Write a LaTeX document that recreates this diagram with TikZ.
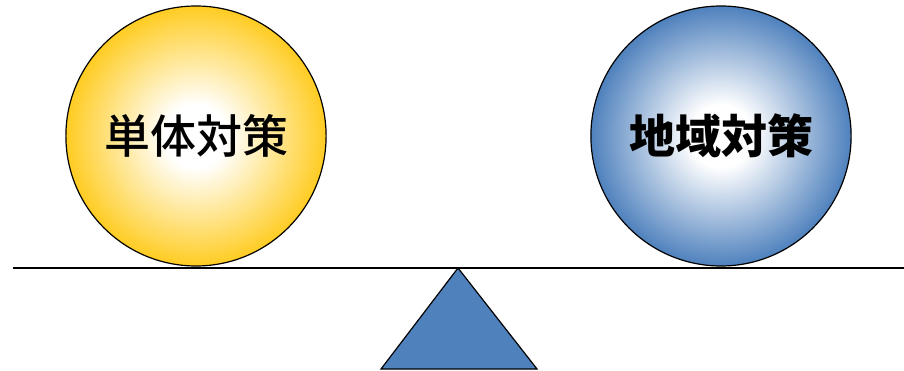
\documentclass[tikz,border=0pt]{standalone}
\usepackage{fontspec}
\newfontfamily\cjk{Noto Sans CJK JP}
\newfontfamily\cjkmed{Noto Sans CJK JP Medium}
\usepackage{tikz}
\usetikzlibrary{shapes.geometric}
\definecolor{ballyellow}{HTML}{FFCC22}
\definecolor{ballblue}{HTML}{4F81BD}
\pgfdeclareradialshading{yshade}{\pgfpoint{0bp}{0bp}}{color(0bp)=(white); color(6bp)=(white); color(25bp)=(ballyellow); color(50bp)=(ballyellow)}
\pgfdeclareradialshading{bshade}{\pgfpoint{0bp}{0bp}}{color(0bp)=(white); color(6bp)=(white); color(25bp)=(ballblue); color(50bp)=(ballblue)}
\tikzstyle{ball}=[draw, ellipse, line width=1.2pt, inner sep=0, minimum width=253pt, minimum height=260pt,
                  font=\cjkmed\fontsize{46pt}{50pt}\selectfont]
\tikzstyle{yball}=[ball, shading=yshade]
\tikzstyle{bball}=[ball, shading=bshade, font=\cjk\bfseries\fontsize{46pt}{50pt}\selectfont]
\tikzstyle{beam}=[draw, line width=1.5pt]
\tikzstyle{pivot}=[draw, line width=1.2pt, fill=ballblue, line join=miter]
\begin{document}
\begin{tikzpicture}[x=1pt, y=-1pt]
        \useasboundingbox (0, 0) rectangle (904, 371);
        \node[yball] (B1) at (196, 136) {単体対策};
        \node[bball] (B2) at (721, 136) {地域対策};
        \coordinate (L) at (13, 268);
        \coordinate (R) at (904, 268);
        \coordinate (P) at (458, 268);
        \draw[beam] (L) -- (R);
        \path[pivot] (P) -- (381, 369) -- (537, 369) -- cycle;
    \end{tikzpicture}
\end{document}
